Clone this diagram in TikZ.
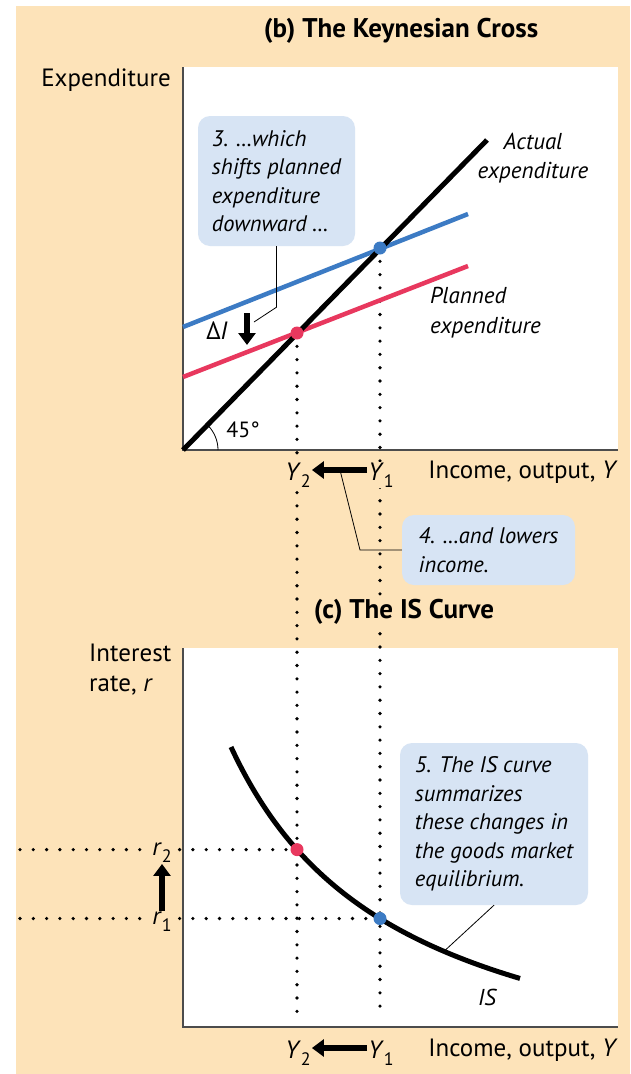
\documentclass[tikz,border=0pt]{standalone}
\usepackage{fontspec}
\setmainfont{PT Sans}
\usetikzlibrary{arrows.meta,positioning}
\definecolor{peach}{HTML}{FDE3B9}
\definecolor{callout}{HTML}{D7E4F4}
\definecolor{planblue}{HTML}{3C7BC4}
\definecolor{planred}{HTML}{E8385E}
\newcommand{\lowsub}[1]{\raisebox{-0.55ex}{\fontsize{18}{18}\selectfont #1}}

\begin{document}
\begin{tikzpicture}[x=1pt, y=-1pt,
  lbl/.style={font=\fontsize{25}{30}\selectfont, inner sep=1pt},
  title/.style={font=\fontsize{27}{30}\selectfont\bfseries},
  note/.style={fill=callout, rounded corners=12pt, align=left, inner sep=0pt, font=\fontsize{22.5}{28.5}\selectfont\itshape},
  dotline/.style={line width=3.6pt, line cap=round, dash pattern=on 0pt off 13.3pt},
  pointer/.style={line width=0.8pt},
  bigarrow/.style={-{Triangle[length=12pt,width=17pt]}, line width=6pt},
  axis/.style={line width=1.5pt, black!70},
  dot/.style={circle, inner sep=0pt, minimum size=13pt, fill=#1},
]
% background and panels
\fill[peach] (16,6) rectangle (630,1074);
\useasboundingbox (0,0) rectangle (630,1074);
\fill[white] (183,67) rectangle (618,450);
\fill[white] (183,648) rectangle (618,1027);
\coordinate (ob) at (183,450);
\coordinate (oc) at (183,1027);
\draw[axis] (183,67) -- (ob) -- (618,450);
\draw[axis] (183,648) -- (oc) -- (618,1027);

% dotted guides
\draw[dotline] (297,333) -- (297,1017);
\draw[dotline] (380,248) -- (380,1017);
\draw[dotline] (20,849.6) -- (297,849.6);
\draw[dotline] (20,918.5) -- (380,918.5);

% (b) The Keynesian Cross
\node[title] (titleb) at (401,31) {(b) The Keynesian Cross};
\node[lbl, anchor=east] (expend) at (172,80) {Expenditure};
\draw[line width=4.5pt, planred] (183,377) -- (468,266);
\draw[line width=4.5pt, planblue] (183,327) -- (468,214);
\draw[line width=5pt] (ob) -- (487,140);
\draw[line width=0.8pt] (ob) ++(35,0) arc[start angle=0, end angle=45, radius=35pt];
\node[dot=planred] (eb2) at (297,333) {};
\node[dot=planblue] (eb1) at (380,248) {};
\node[lbl, font=\fontsize{22}{22}\selectfont] (deg) at (243,430) {45°};
\node[lbl, font=\fontsize{23}{29}\selectfont\itshape, align=center] (actual) at (533,158) {Actual\\expenditure};
\node[lbl, font=\fontsize{23}{30}\selectfont\itshape, align=left, anchor=west] (planned) at (429,313) {Planned\\expenditure};
\node[lbl] (dI) at (217,331) {Δ\textit{I}};
\coordinate (dItop) at (247,313);
\coordinate (dIbot) at (247,345);
\draw[bigarrow] (dItop) -- (dIbot);

\node[note, minimum width=157pt, minimum height=130pt] (note3) at (276.5,181)
  {3. …which\\shifts planned\\expenditure\\downward …};
\coordinate (p3) at (254,322);
\draw[pointer] (note3.south) -- ++(0,61) -- (p3);

\node[lbl, fill=peach] (y2b) at (298,475) {\textit{Y}\lowsub{2}};
\node[lbl, fill=peach] (y1b) at (381,475) {\textit{Y}\lowsub{1}};
\node[lbl, anchor=east] (incb) at (619,472) {Income, output, \textit{Y}};
\draw[bigarrow] ([yshift=5pt]y1b.west) -- ([yshift=5pt]y2b.east);

\node[note, minimum width=173pt, minimum height=70pt] (note4) at (488.5,550)
  {4. …and lowers\\income.};
\coordinate (p4) at (340,470);
\draw[pointer] (p4) -- (360,550) -- (note4.west);

% (c) The IS Curve
\node[title, fill=peach, inner sep=2pt] (titlec) at (404,612) {(c) The IS Curve};
\node[lbl, anchor=north west, align=left] (intrate) at (88,643) {Interest\\rate, \textit{r}};
\draw[line width=5pt, domain=231:520, samples=60, smooth] plot (\x, {1115.4 - 100*(630/(\x-60))});
\node[dot=planred] (ec2) at (297,849.6) {};
\node[dot=planblue] (ec1) at (380,918.5) {};
\node[lbl, fill=peach] (r2) at (162,853) {\textit{r}\lowsub{2}};
\node[lbl, fill=peach] (r1) at (162,922) {\textit{r}\lowsub{1}};
\draw[bigarrow] (r1) -- (r2);
\node[lbl, font=\fontsize{23}{23}\selectfont\itshape] (islbl) at (487,997) {IS};

\node[note, minimum width=188pt, minimum height=162pt] (note5) at (494,824)
  {5. The IS curve\\summarizes\\these changes in\\the goods market\\equilibrium.};
\coordinate (p5) at (444,951.3);
\draw[pointer] (note5.south) -- (p5);

\node[lbl, fill=peach] (y2c) at (298,1053) {\textit{Y}\lowsub{2}};
\node[lbl, fill=peach] (y1c) at (381,1053) {\textit{Y}\lowsub{1}};
\node[lbl, anchor=east] (incc) at (619,1050) {Income, output, \textit{Y}};
\draw[bigarrow] ([yshift=5pt]y1c.west) -- ([yshift=5pt]y2c.east);
\end{tikzpicture}
\end{document}
